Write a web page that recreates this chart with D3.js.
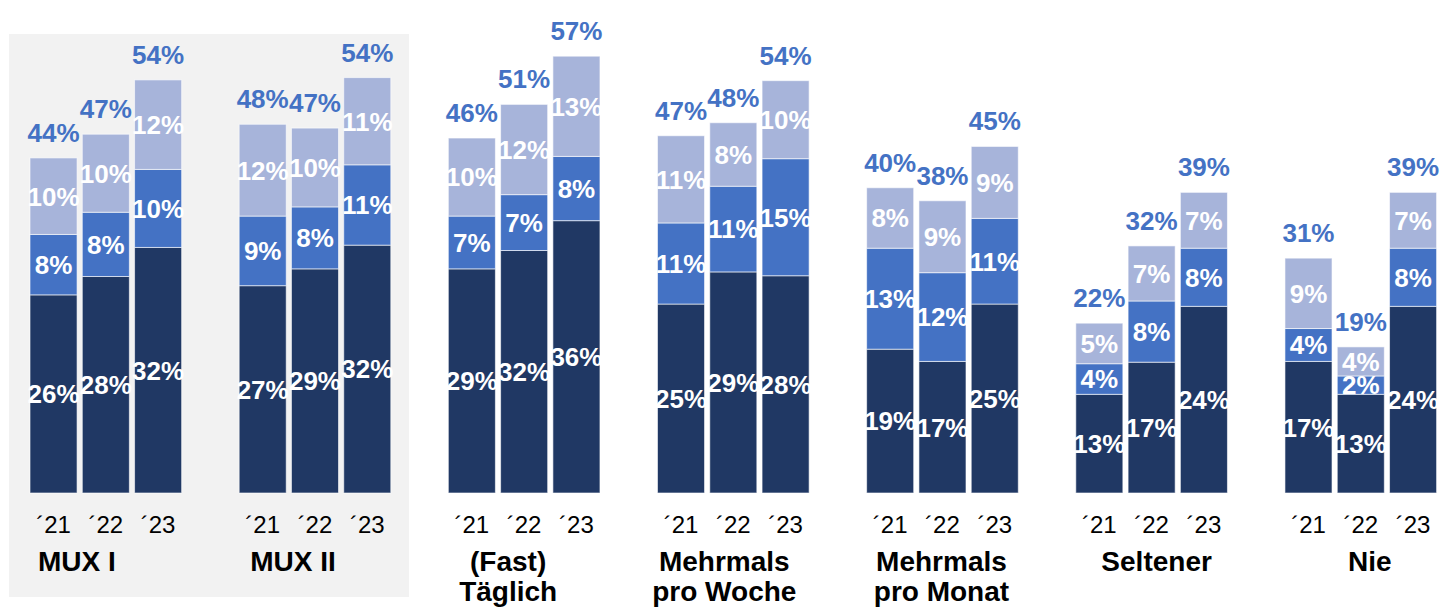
<!DOCTYPE html>
<html>
<head>
<meta charset="utf-8">
<script src="https://cdn.jsdelivr.net/npm/d3@7"></script>
<style>
    body { margin: 0; background: #fff; }
    text { font-family: "Liberation Sans", Arial, sans-serif; }
</style>
</head>
<body>
<div id="chart"></div>
<script>
// Categories
var groups = ["MUX I", "MUX II", "(Fast) Täglich", "Mehrmals pro Woche", "Mehrmals pro Monat", "Seltener", "Nie"];
var groupLines = [["MUX I"], ["MUX II"], ["(Fast)", "Täglich"], ["Mehrmals", "pro Woche"], ["Mehrmals", "pro Monat"], ["Seltener"], ["Nie"]];
var years = ["´21", "´22", "´23"];

// Series values (%), one row per group, one value per year
var darkValues = [
    [25.9, 28.3, 32.1],
    [27.1, 29.3, 32.4],
    [29.3, 31.7, 35.6],
    [24.7, 28.9, 28.4],
    [18.8, 17.2, 24.7],
    [12.9, 17.1, 24.4],
    [17.2, 12.9, 24.4]
];
var midValues = [
    [7.9, 8.4, 10.2],
    [9.1, 8.1, 10.5],
    [6.9, 7.3, 8.4],
    [10.6, 11.2, 15.3],
    [13.2, 11.6, 11.2],
    [4.0, 8.0, 7.6],
    [4.3, 2.4, 7.6]
];
var lightValues = [
    [10.0, 10.2, 11.7],
    [12.0, 10.3, 11.4],
    [10.2, 11.8, 13.1],
    [11.4, 8.3, 10.2],
    [7.9, 9.4, 9.4],
    [5.3, 7.2, 7.3],
    [9.2, 3.8, 7.3]
];
// Totals as printed above the bars
var totals = [
    [44, 47, 54],
    [48, 47, 54],
    [46, 51, 57],
    [47, 48, 54],
    [40, 38, 45],
    [22, 32, 39],
    [31, 19, 39]
];

// layout
var svgWidth = 1441;
var svgHeight = 610;
var baseY = 493;
var labelShift = [-29, -22, -16, -9, -1, 5, 9];

var colors = { dark: "#203864", mid: "#4472c4", light: "#a7b4da" };
var totalColor = "#4472c4";

var svg = d3.select("#chart")
    .append("svg")
    .attr("width", svgWidth)
    .attr("height", svgHeight);

// gray panel behind the MUX groups
svg.append("rect")
    .attr("x", 9)
    .attr("y", 34)
    .attr("width", 400)
    .attr("height", 563)
    .attr("fill", "#f2f2f2");

var x0 = d3.scaleBand()
    .domain(groups)
    .range([30, 1436.6])
    .paddingInner(0.275)
    .paddingOuter(0);

var x1 = d3.scaleBand()
    .domain(years)
    .range([0, x0.bandwidth()])
    .paddingInner(0.1)
    .paddingOuter(0);

var yScale = d3.scaleLinear()
    .domain([0, 60])
    .range([baseY, baseY - 60 * 7.65]);

// flat rows for the stack
var rows = [];
groups.forEach(function(g, i) {
    years.forEach(function(yr, j) {
        rows.push({
            group: g,
            gi: i,
            year: yr,
            yi: j,
            dark: darkValues[i][j],
            mid: midValues[i][j],
            light: lightValues[i][j],
            total: totals[i][j]
        });
    });
});

var keys = ["dark", "mid", "light"];
var series = d3.stack().keys(keys)(rows);

var barX = function(d) { return x0(d.group) + x1(d.year); };

var layers = svg.selectAll("g.layer")
    .data(series)
    .enter()
    .append("g")
    .attr("class", "layer")
    .attr("fill", d => colors[d.key]);

layers.selectAll("rect")
    .data(d => d)
    .enter()
    .append("rect")
    .attr("x", d => barX(d.data))
    .attr("y", d => yScale(d[1]))
    .attr("width", x1.bandwidth())
    .attr("height", d => yScale(d[0]) - yScale(d[1]))
    .attr("stroke", "#ffffff")
    .attr("stroke-opacity", 0.6)
    .attr("stroke-width", 1);

// segment labels
layers.selectAll("text")
    .data(d => d.map(s => ({ s: s, key: d.key })))
    .enter()
    .append("text")
    .attr("x", d => barX(d.s.data) + x1.bandwidth() / 2)
    .attr("y", d => (yScale(d.s[0]) + yScale(d.s[1])) / 2)
    .attr("dy", "0.36em")
    .attr("text-anchor", "middle")
    .attr("fill", "#ffffff")
    .attr("font-size", "26px")
    .attr("font-weight", "bold")
    .text(d => Math.round(d.s.data[d.key]) + "%");

// totals above bars
svg.append("g")
    .selectAll("text")
    .data(rows)
    .enter()
    .append("text")
    .attr("x", d => barX(d) + x1.bandwidth() / 2)
    .attr("y", d => yScale(d.dark + d.mid + d.light) - 16)
    .attr("text-anchor", "middle")
    .attr("fill", totalColor)
    .attr("font-size", "26px")
    .attr("font-weight", "bold")
    .text(d => d.total + "%");

// year labels
svg.append("g")
    .selectAll("text")
    .data(rows)
    .enter()
    .append("text")
    .attr("x", d => barX(d) + x1.bandwidth() / 2)
    .attr("y", 533)
    .attr("text-anchor", "middle")
    .attr("fill", "#000000")
    .attr("font-size", "24px")
    .text(d => d.year);

// group labels
var groupLabels = svg.append("g")
    .selectAll("text")
    .data(groups)
    .enter()
    .append("text")
    .attr("x", (d, i) => x0(d) + x0.bandwidth() / 2 + labelShift[i])
    .attr("y", 571)
    .attr("text-anchor", "middle")
    .attr("fill", "#000000")
    .attr("font-size", "28px")
    .attr("font-weight", "bold");

groupLabels.selectAll("tspan")
    .data((d, i) => groupLines[i])
    .enter()
    .append("tspan")
    .attr("x", function() { return d3.select(this.parentNode).attr("x"); })
    .attr("dy", (d, i) => i === 0 ? 0 : 30)
    .text(d => d);
</script>
</body>
</html>
